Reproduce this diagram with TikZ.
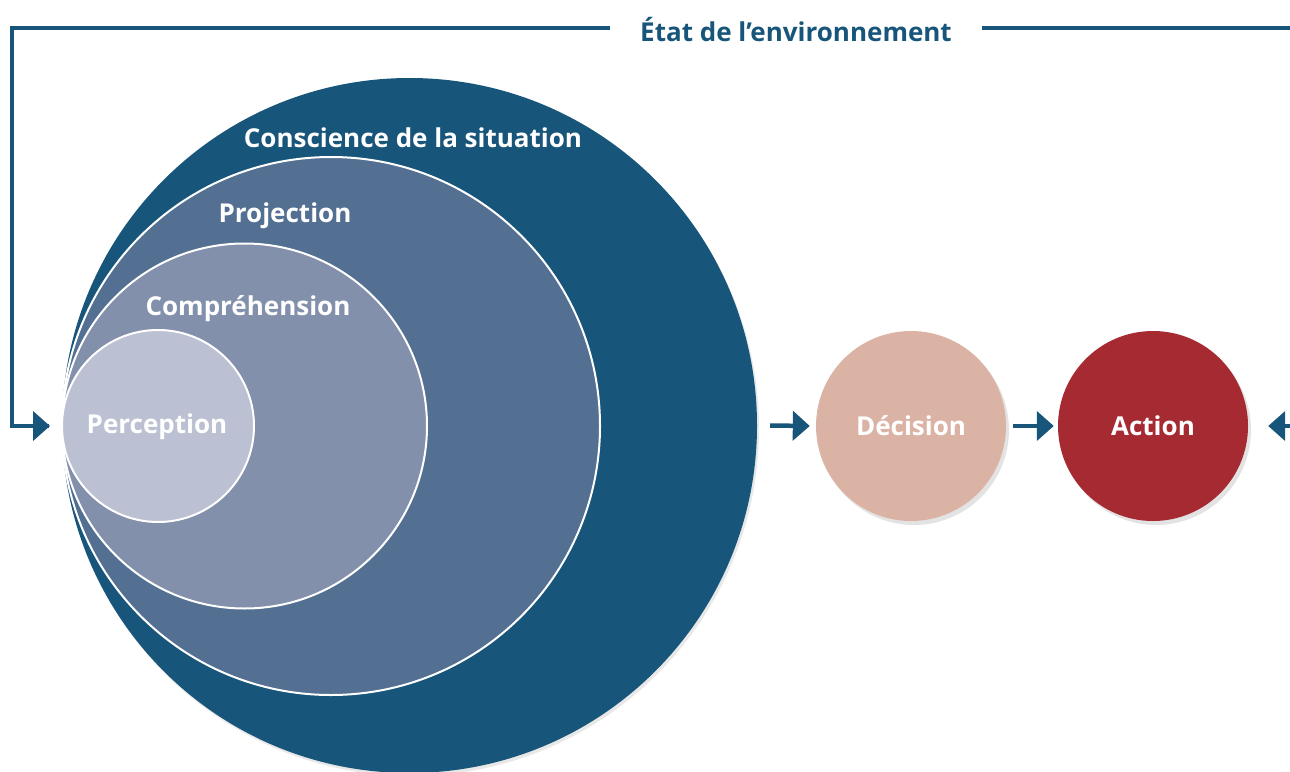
\documentclass[tikz,border=0pt]{standalone}
\usepackage{fontspec}
\setmainfont{Open Sans}[Ligatures=NoCommon]
\usetikzlibrary{arrows.meta,shadows}
\definecolor{dblue}{HTML}{18557A}
\definecolor{proj}{HTML}{536F91}
\definecolor{comp}{HTML}{8390AB}
\definecolor{perc}{HTML}{BBC0D3}
\definecolor{deci}{HTML}{DBB3A5}
\definecolor{acti}{HTML}{A62A31}
\newcommand{\lblfont}{\fontsize{26}{30}\selectfont\bfseries}
\tikzset{
  ring/.style={circle, inner sep=0pt, draw=white, line width=2pt},
  bigring/.style={circle, inner sep=0pt, draw=none, drop shadow={shadow xshift=2pt, shadow yshift=-3pt, opacity=0.18}},
  stepcirc/.style={circle, inner sep=0pt, minimum size=190pt, draw=none,
     font=\lblfont, text=white,
     drop shadow={shadow xshift=3pt, shadow yshift=-4pt, opacity=0.22}},
  lbl/.style={font=\lblfont, text=white, inner sep=0pt},
  flow/.style={line width=4.5pt, draw=dblue},
  arr/.style={flow, -{Triangle[length=17pt,width=29pt]}},
}
\begin{document}
\begin{tikzpicture}[x=1pt,y=-1pt]
\useasboundingbox (0,0) rectangle (1290,771);
% nested circles
\node[bigring, fill=dblue, minimum size=695pt] (csit) at (409.5,425.5) {};
\node[ring, fill=proj, minimum size=538pt] (proj) at (331,426) {};
\node[ring, fill=comp, minimum size=365pt] (comp) at (244.5,426) {};
\node[ring, fill=perc, minimum size=192pt] (perc) at (158,426) {};
\node[lbl] (tcsit) at (413,138) {Conscience de la situation};
\node[lbl] (tproj) at (285,216) {Projection};
\node[lbl] (tcomp) at (248,309) {Compréhension};
\node[lbl] (tperc) at (157,427) {Perception};
% steps
\node[stepcirc, fill=deci] (dec) at (911,426) {Décision};
\node[stepcirc, fill=acti] (act) at (1153,426) {Action};
% environment label
\node[font=\lblfont, text=dblue, inner sep=0pt] (env) at (796,30) {État de l’environnement};
% connectors
\coordinate (tl) at (12,28);
\coordinate (lin) at (50,426);
\coordinate (rout) at (1290,28);
\coordinate (rin) at (1290,426);
\draw[flow] ([xshift=-30pt]env.west |- tl) -- (tl) |- ([xshift=-12pt]perc.west);
\draw[arr] (tl |- lin) -- (lin);
\draw[flow] ([xshift=30pt]env.east |- rout) -- (rout);
\draw[arr] (rin) -- ([xshift=20pt]act.east);
\draw[arr] ([xshift=13pt]csit.east) -- ([xshift=-6pt]dec.west);
\draw[arr] ([xshift=7pt]dec.east) -- ([xshift=-4pt]act.west);
\end{tikzpicture}
\end{document}
